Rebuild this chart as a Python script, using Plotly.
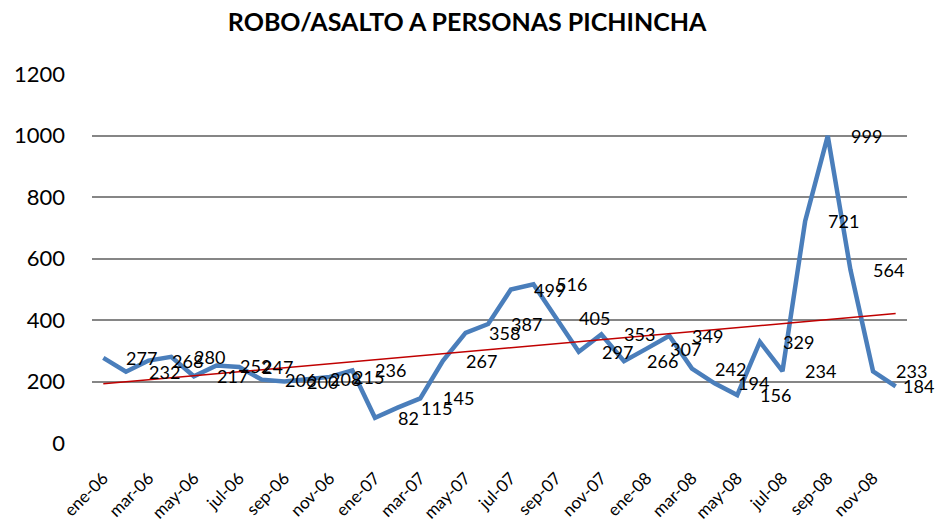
import numpy as np
import plotly.graph_objects as go

# Monthly robbery/assault counts, Pichincha, Jan 2006 - Dec 2008
meses = ["ene", "feb", "mar", "abr", "may", "jun", "jul", "ago", "sep", "oct", "nov", "dic"]
anios = ["06", "07", "08"]
periodos = [f"{m}-{a}" for a in anios for m in meses]
casos = [277, 232, 268, 280, 217, 252, 247, 206, 200, 208, 215, 236,
         82, 115, 145, 267, 358, 387, 499, 516, 405, 297, 353, 266,
         307, 349, 242, 194, 156, 329, 234, 721, 999, 564, 233, 184]
ticks_y = [0, 200, 400, 600, 800, 1000, 1200]

idx = np.arange(len(casos))
pendiente, intercepto = np.polyfit(idx, casos, 1)
tendencia = pendiente * idx + intercepto

fig = go.Figure()
fig.add_trace(go.Scatter(x=idx, y=casos, mode="lines",
                         line=dict(color="#4A7EBB", width=4.5),
                         hoverinfo="x+y", showlegend=False))
fig.add_trace(go.Scatter(x=idx, y=tendencia, mode="lines",
                         line=dict(color="#C00000", width=1.5),
                         hoverinfo="skip", showlegend=False))

# Value labels to the right of each point; the last one is pulled in to stay on canvas
for i, v in enumerate(casos):
    fig.add_annotation(x=i, y=v, text=str(v), showarrow=False,
                       xanchor="left", yanchor="middle",
                       xshift=5 if i == len(casos) - 1 else 21,
                       font=dict(family="Lato", size=18, color="#000000"))

fig.update_layout(
    width=938, height=524,
    paper_bgcolor="white", plot_bgcolor="white",
    margin=dict(l=92, r=31, t=74, b=81, autoexpand=False),
    title=dict(text="<b>ROBO/ASALTO A PERSONAS PICHINCHA</b>",
               x=0.498, xanchor="center", y=0.957, yanchor="middle",
               font=dict(family="Lato", size=25, color="#000000")),
    xaxis=dict(range=[-0.5, len(casos) - 0.5], automargin=False,
               tickmode="array", tickvals=idx[::2].tolist(),
               ticktext=periodos[::2], tickangle=-45,
               showgrid=False, zeroline=False, showline=False, ticks="",
               ticklabelstandoff=21,
               tickfont=dict(family="Lato", size=17, color="#000000")),
    yaxis=dict(range=[0, 1200], tickmode="array", tickvals=ticks_y,
               automargin=False,
               showgrid=True, gridcolor="#868686", gridwidth=2,
               zeroline=False, showline=False, ticks="", ticklen=0,
               ticklabelstandoff=26,
               tickfont=dict(family="Lato", size=22, color="#000000")),
)

fig.write_html("out.html")
